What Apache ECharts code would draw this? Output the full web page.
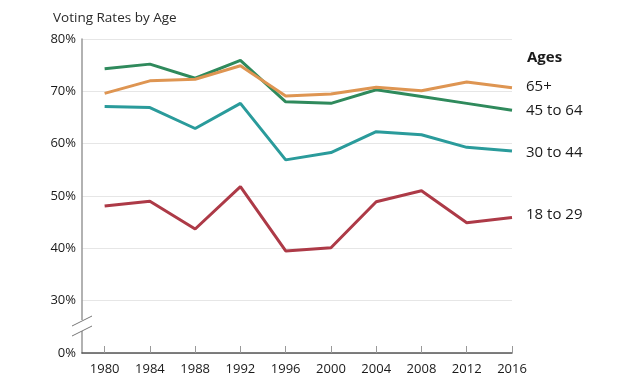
<!DOCTYPE html>
<html><head><meta charset="utf-8">
<script src="https://cdn.jsdelivr.net/npm/echarts@6/dist/echarts.min.js"></script>
<style>html,body{margin:0;padding:0;background:#fff}#c{width:619px;height:392px}</style>
</head><body><div id="c"></div>
<script>
const years = [1980,1984,1988,1992,1996,2000,2004,2008,2012,2016];
const age65plus = [69.6,72.0,72.3,74.9,69.1,69.5,70.8,70.1,71.8,70.7];
const age45to64 = [74.3,75.2,72.5,75.9,68.0,67.7,70.3,69.0,67.7,66.4];
const age30to44 = [67.1,66.9,62.9,67.7,56.9,58.3,62.3,61.7,59.3,58.6];
const age18to29 = [48.1,49.0,43.7,51.8,39.5,40.1,48.9,51.0,44.9,45.9];
const seriesNames = ['65+','45 to 64','30 to 44','18 to 29'];
const yTicks = [20,30,40,50,60,70,80];
const yTickLabels = ['0%','30%','40%','50%','60%','70%','80%'];
const FONT = '"Open Sans", sans-serif';
const colors = ['#de9552','#2f8a5c','#2a9b9b','#ad3a47'];
const dataSets = [age65plus, age45to64, age30to44, age18to29];

const chart = echarts.init(document.getElementById('c'));
const series = dataSets.map((arr, i) => ({
  name: seriesNames[i], type: 'line', symbol: 'none',
  data: years.map((y, j) => [y, arr[j]]),
  lineStyle: {width: 3, color: colors[i]}, color: colors[i],
  z: 10 - i,
  endLabel: {show: true, formatter: seriesNames[i], distance: 14,
    color: '#1a1a1a', fontFamily: FONT, fontSize: 15,
    offset: [0, [-1, 1, 2, -3][i]]}
}));
chart.setOption({
  animation: false,
  title: {text: 'Voting Rates by Age', left: 48, top: 6,
    textStyle: {fontFamily: FONT, fontSize: 13.5, fontWeight: 'normal', color: '#2a2a2a'}},
  grid: {left: 82, right: 107, top: 39, bottom: 39},
  xAxis: {type: 'value', min: 1978, max: 2016,
    axisLine: {lineStyle: {color: '#555', width: 1.5}},
    axisTick: {show: true, inside: true, length: 7, customValues: years, lineStyle: {color: '#999'}},
    axisLabel: {customValues: years, color: '#1a1a1a', fontFamily: FONT, fontSize: 13, margin: 10,
      formatter: v => String(v)},
    splitLine: {show: false}},
  yAxis: {type: 'value', min: 20, max: 80, interval: 10,
    axisLine: {show: true, lineStyle: {color: '#999', width: 1.5}},
    axisTick: {show: false},
    axisLabel: {color: '#1a1a1a', fontFamily: FONT, fontSize: 13, margin: 6,
      formatter: v => yTickLabels[yTicks.indexOf(v)]},
    splitLine: {lineStyle: {color: '#e6e6e6'}}},
  graphic: [
    {type: 'rect', shape: {x: 78, y: 320, width: 10, height: 11}, style: {fill: '#fff'}, z: 100},
    {type: 'line', shape: {x1: 72, y1: 326, x2: 92, y2: 316}, style: {stroke: '#777', lineWidth: 1}, z: 101},
    {type: 'line', shape: {x1: 72, y1: 336, x2: 92, y2: 326}, style: {stroke: '#777', lineWidth: 1}, z: 101},
    {type: 'text', left: 527, top: 50, style: {text: 'Ages', fontFamily: FONT, fontSize: 15, fontWeight: 'bold', fill: '#1a1a1a'}}
  ],
  series: series
});
</script></body></html>
